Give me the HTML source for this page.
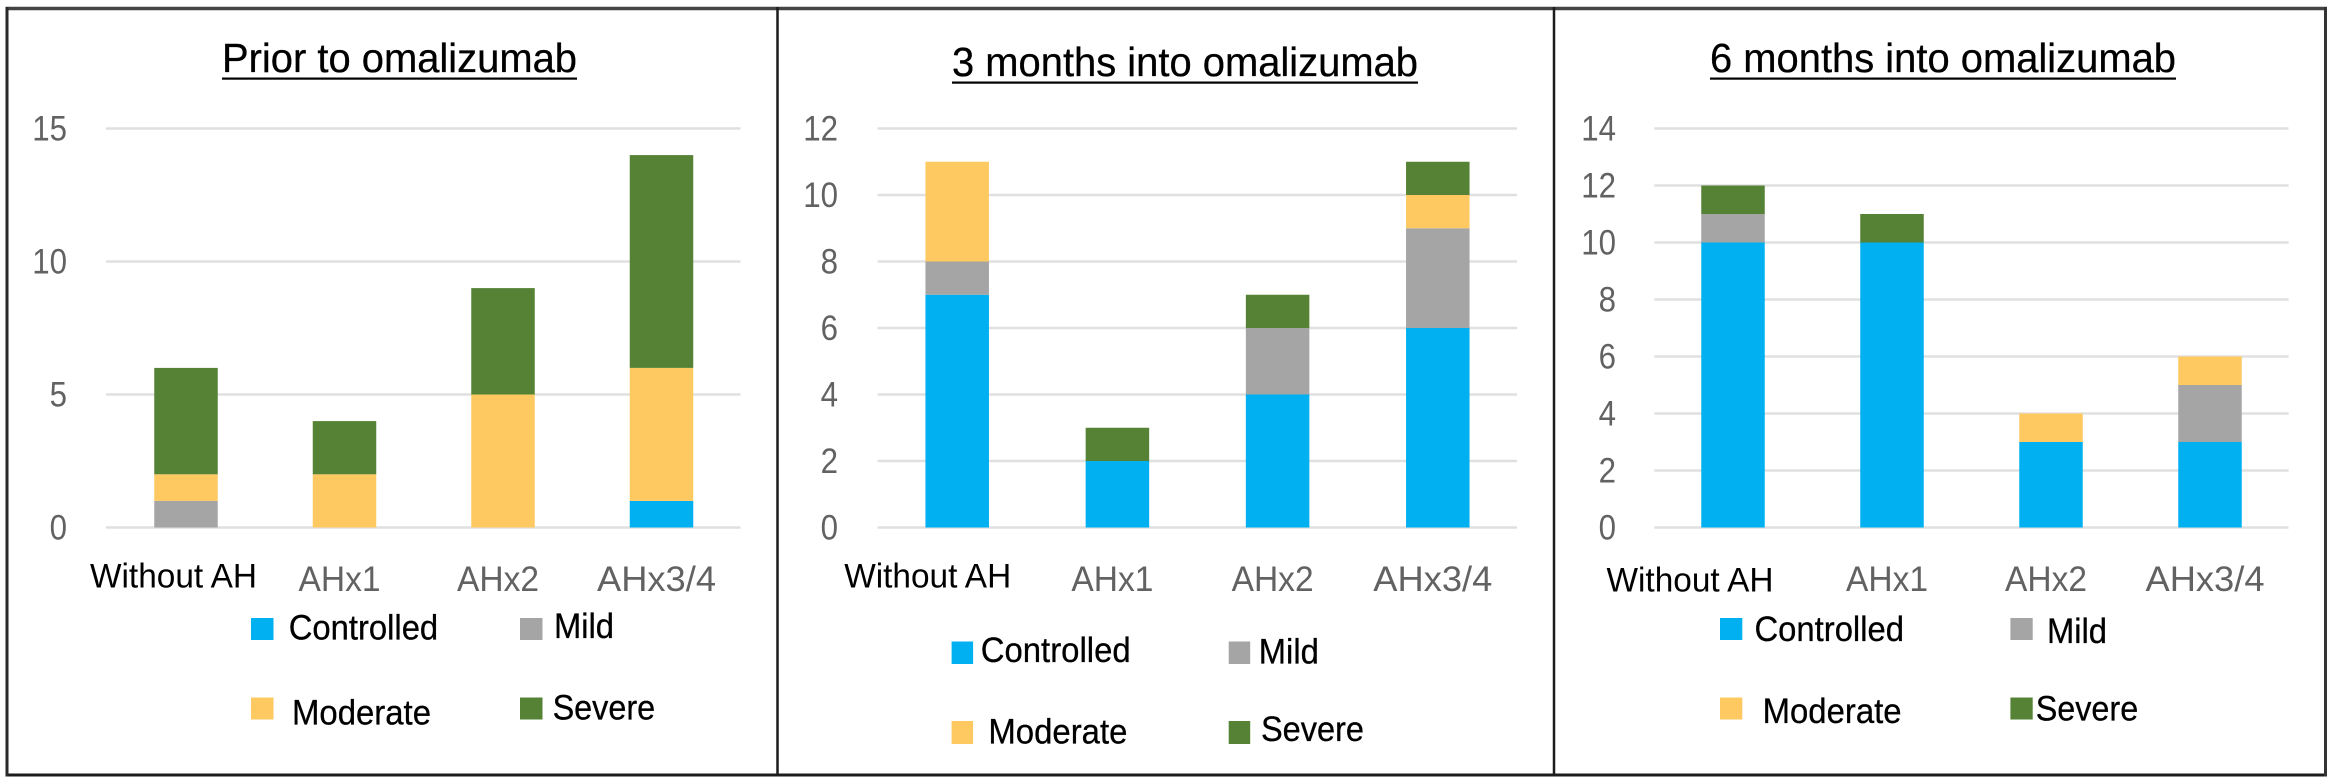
<!DOCTYPE html>
<html lang="en">
<head>
<meta charset="utf-8">
<title>Asthma control by antihistamine dose, before and during omalizumab</title>
<style>
  html, body { margin: 0; padding: 0; background: #fff; }
  svg { display: block; font-family: "Liberation Sans", sans-serif; }
  .title { font-size: 41px; fill: #000; stroke: #000; stroke-width: 0.3px; }
  .legend-text { font-size: 35px; fill: #000; stroke: #000; stroke-width: 0.3px; }
</style>
</head>
<body>
<svg id="figure" xmlns="http://www.w3.org/2000/svg" width="2333" height="783" viewBox="0 0 2333 783">
  <rect x="0" y="0" width="2333" height="783" fill="#fff"/>

  <g id="panel-1">
    <text class="title" x="222" y="72" textLength="355" lengthAdjust="spacingAndGlyphs">Prior to omalizumab</text>
    <rect x="222" y="77.5" width="355" height="2.2" fill="#000"/>
    <g id="plot-1"></g>
    <g>
      <rect x="251" y="618" width="22.5" height="22" fill="#00B0F0"/>
      <text class="legend-text" x="288.7" y="639.5" textLength="149.5" lengthAdjust="spacingAndGlyphs">Controlled</text>
      <rect x="520" y="618" width="22.5" height="22" fill="#A5A5A5"/>
      <text class="legend-text" x="554" y="638" textLength="60" lengthAdjust="spacingAndGlyphs">Mild</text>
      <rect x="251" y="697.5" width="22.5" height="22" fill="#FEC961"/>
      <text class="legend-text" x="292" y="724.5" textLength="139" lengthAdjust="spacingAndGlyphs">Moderate</text>
      <rect x="520" y="697.5" width="22.5" height="22" fill="#558235"/>
      <text class="legend-text" x="552.6" y="719.5" textLength="102.5" lengthAdjust="spacingAndGlyphs">Severe</text>
    </g>
  </g>

  <g id="panel-2">
    <text class="title" x="952" y="76" textLength="466" lengthAdjust="spacingAndGlyphs">3 months into omalizumab</text>
    <rect x="952" y="81.5" width="466" height="2.2" fill="#000"/>
    <g id="plot-2"></g>
    <g>
      <rect x="951.6" y="641.5" width="21.5" height="22.5" fill="#00B0F0"/>
      <text class="legend-text" x="980.7" y="662" textLength="150" lengthAdjust="spacingAndGlyphs">Controlled</text>
      <rect x="1228.7" y="641.5" width="21.5" height="22.5" fill="#A5A5A5"/>
      <text class="legend-text" x="1258.8" y="663.5" textLength="60" lengthAdjust="spacingAndGlyphs">Mild</text>
      <rect x="951.6" y="721" width="21.5" height="23" fill="#FEC961"/>
      <text class="legend-text" x="988.4" y="743.5" textLength="139" lengthAdjust="spacingAndGlyphs">Moderate</text>
      <rect x="1228.7" y="721" width="21.5" height="23" fill="#558235"/>
      <text class="legend-text" x="1261" y="741" textLength="103" lengthAdjust="spacingAndGlyphs">Severe</text>
    </g>
  </g>

  <g id="panel-3">
    <text class="title" x="1710" y="72" textLength="466" lengthAdjust="spacingAndGlyphs">6 months into omalizumab</text>
    <rect x="1710" y="77.5" width="466" height="2.2" fill="#000"/>
    <g id="plot-3"></g>
    <g>
      <rect x="1720" y="618" width="22.3" height="22" fill="#00B0F0"/>
      <text class="legend-text" x="1754.5" y="641" textLength="149.5" lengthAdjust="spacingAndGlyphs">Controlled</text>
      <rect x="2010.4" y="618" width="22.3" height="22" fill="#A5A5A5"/>
      <text class="legend-text" x="2047" y="643" textLength="60" lengthAdjust="spacingAndGlyphs">Mild</text>
      <rect x="1720" y="697.5" width="22.3" height="22" fill="#FEC961"/>
      <text class="legend-text" x="1762.6" y="723" textLength="139" lengthAdjust="spacingAndGlyphs">Moderate</text>
      <rect x="2010.4" y="697.5" width="22.3" height="22" fill="#558235"/>
      <text class="legend-text" x="2035.7" y="720.5" textLength="102.5" lengthAdjust="spacingAndGlyphs">Severe</text>
    </g>
  </g>

  <g fill="none">
    <line x1="5.5" y1="8.5" x2="2327" y2="8.5" stroke="#444" stroke-width="3.5"/>
    <line x1="5.5" y1="775" x2="2327" y2="775" stroke="#1c1c1c" stroke-width="3"/>
    <line x1="7" y1="7" x2="7" y2="776.5" stroke="#2a2a2a" stroke-width="3"/>
    <line x1="777.5" y1="7" x2="777.5" y2="776.5" stroke="#1c1c1c" stroke-width="2.5"/>
    <line x1="1554" y1="7" x2="1554" y2="776.5" stroke="#1c1c1c" stroke-width="2.5"/>
    <line x1="2325.5" y1="7" x2="2325.5" y2="776.5" stroke="#333" stroke-width="3"/>
  </g>
</svg>

<script>
const categories = ["Without AH", "AHx1", "AHx2", "AHx3/4"];

const ticksPrior = [0, 5, 10, 15];
const controlledPrior = [0, 0, 0, 1];
const mildPrior = [1, 0, 0, 0];
const moderatePrior = [1, 2, 5, 5];
const severePrior = [4, 2, 4, 8];

const ticks3Months = [0, 2, 4, 6, 8, 10, 12];
const controlled3Months = [7, 2, 4, 6];
const mild3Months = [1, 0, 2, 3];
const moderate3Months = [3, 0, 0, 1];
const severe3Months = [0, 1, 1, 1];

const ticks6Months = [0, 2, 4, 6, 8, 10, 12, 14];
const controlled6Months = [10, 10, 3, 3];
const mild6Months = [1, 0, 0, 2];
const moderate6Months = [0, 0, 1, 1];
const severe6Months = [1, 1, 0, 0];

const SVG_NS = "http://www.w3.org/2000/svg";
const PLOT_TOP = 128.5;
const PLOT_BOTTOM = 527.5;
const BAR_WIDTH = 63.5;
const LABEL_BASELINE = 591;
const COLOR_CONTROLLED = "#00B0F0";
const COLOR_MILD = "#A5A5A5";
const COLOR_MODERATE = "#FEC961";
const COLOR_SEVERE = "#558235";

function create(tag, attrs, parent) {
  const el = document.createElementNS(SVG_NS, tag);
  Object.keys(attrs).forEach(function (k) { el.setAttribute(k, attrs[k]); });
  parent.appendChild(el);
  return el;
}

function drawChart(opts) {
  const root = document.getElementById(opts.id);
  const maxTick = opts.ticks[opts.ticks.length - 1];
  const y = function (v) { return PLOT_BOTTOM - (v / maxTick) * (PLOT_BOTTOM - PLOT_TOP); };
  const xCenter = function (i) { return opts.firstCenter + i * opts.step; };

  opts.ticks.forEach(function (t) {
    const grid = create("line", { x1: opts.left, x2: opts.right, y1: y(t), y2: y(t), stroke: "#E0E0E0", "stroke-width": 2.4 }, root);
    
    
    const text = String(t);
    const label = create("text", {
      x: opts.tickRight, y: y(t) + 12, "text-anchor": "end", "font-size": 35.5, fill: "#626262",
      textLength: text.length * 17.4, lengthAdjust: "spacingAndGlyphs"
    }, root);
    label.textContent = text;
    
    
  });

  categories.forEach(function (cat, i) {
    let base = 0;
    opts.series.forEach(function (s) {
      const v = s.values[i];
      if (v > 0) {
        const seg = create("rect", { x: xCenter(i) - BAR_WIDTH / 2, y: y(base + v), width: BAR_WIDTH, height: y(base) - y(base + v), fill: s.color }, root);
        
        
      }
      base += v;
    });

    const isFirst = i === 0;
    const catLabel = create("text", {
      x: xCenter(i) + (isFirst ? opts.firstLabelOffset : -5),
      y: isFirst ? opts.firstLabelBaseline : LABEL_BASELINE,
      "text-anchor": "middle",
      "font-size": isFirst ? 34 : 35,
      fill: isFirst ? "#000" : "#626262",
      textLength: isFirst ? 167 : cat.length * 18.5 + 8,
      lengthAdjust: "spacingAndGlyphs"
    }, root);
    catLabel.textContent = cat;
    
    
  });
}

drawChart({
  id: "plot-1", left: 106, right: 740.5, tickRight: 67, firstCenter: 186, step: 158.5,
  firstLabelOffset: -12.5, firstLabelBaseline: 587.5, ticks: ticksPrior,
  series: [
    { name: "controlled", color: COLOR_CONTROLLED, values: controlledPrior },
    { name: "mild", color: COLOR_MILD, values: mildPrior },
    { name: "moderate", color: COLOR_MODERATE, values: moderatePrior },
    { name: "severe", color: COLOR_SEVERE, values: severePrior }
  ]
});

drawChart({
  id: "plot-2", left: 877.6, right: 1517, tickRight: 838, firstCenter: 957.2, step: 160.2,
  firstLabelOffset: -29.5, firstLabelBaseline: 587.5, ticks: ticks3Months,
  series: [
    { name: "controlled", color: COLOR_CONTROLLED, values: controlled3Months },
    { name: "mild", color: COLOR_MILD, values: mild3Months },
    { name: "moderate", color: COLOR_MODERATE, values: moderate3Months },
    { name: "severe", color: COLOR_SEVERE, values: severe3Months }
  ]
});

drawChart({
  id: "plot-3", left: 1654.3, right: 2288.6, tickRight: 1616, firstCenter: 1733, step: 159,
  firstLabelOffset: -43, firstLabelBaseline: 591.5, ticks: ticks6Months,
  series: [
    { name: "controlled", color: COLOR_CONTROLLED, values: controlled6Months },
    { name: "mild", color: COLOR_MILD, values: mild6Months },
    { name: "moderate", color: COLOR_MODERATE, values: moderate6Months },
    { name: "severe", color: COLOR_SEVERE, values: severe6Months }
  ]
});
</script>
</body>
</html>
